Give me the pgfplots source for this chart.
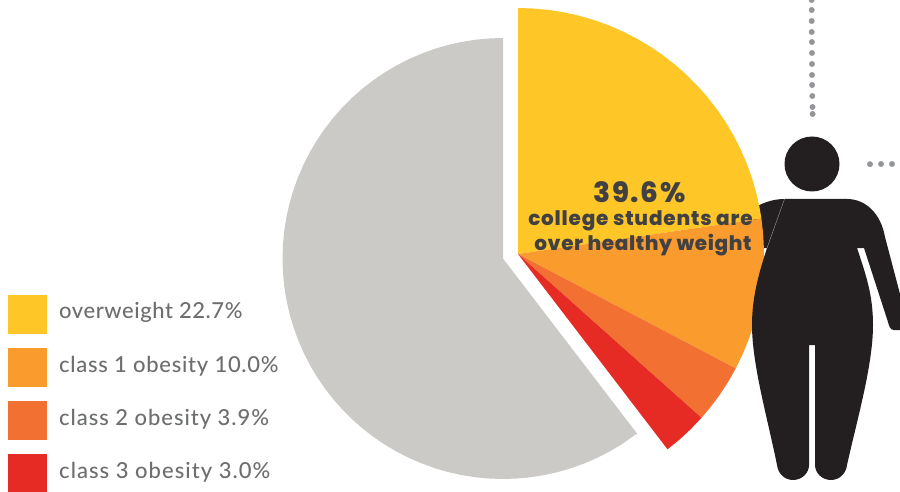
\documentclass[border=0pt]{standalone}
\usepackage{pgfplots}
\usepackage{pgfplotstable}
\usepackage{fontspec}
\pgfplotsset{compat=1.18}
\setmainfont{Lato Medium}
\newfontfamily\heavy{Poppins ExtraBold}
\definecolor{cY}{HTML}{FFC627}
\definecolor{cO}{HTML}{F99B2D}
\definecolor{cT}{HTML}{F37033}
\definecolor{cR}{HTML}{E62A24}
\definecolor{cG}{HTML}{CBCAC6}
\definecolor{cK}{HTML}{231F20}
\definecolor{cL}{HTML}{6D6E70}
\definecolor{cH}{HTML}{414042}
\definecolor{cD}{HTML}{939598}
% percentage position round the pie, and radius share
\pgfplotstableread[row sep=\\]{p r\\0 0\\0 1\\1 1\\2 1\\3 1\\4 1\\5 1\\6 1\\7 1\\8 1\\9 1\\10 1\\11 1\\12 1\\13 1\\14 1\\15 1\\16 1\\17 1\\18 1\\19 1\\20 1\\21 1\\22 1\\22.7 1\\}\tY
\pgfplotstableread[row sep=\\]{p r\\22.7 0\\22.7 1\\23.7 1\\24.7 1\\25.7 1\\26.7 1\\27.7 1\\28.7 1\\29.7 1\\30.7 1\\31.7 1\\32.7 1\\}\tO
\pgfplotstableread[row sep=\\]{p r\\32.7 0\\32.7 1\\33.7 1\\34.7 1\\35.7 1\\36.6 1\\}\tT
\pgfplotstableread[row sep=\\]{p r\\36.6 0\\36.6 1\\37.6 1\\38.6 1\\39.6 1\\}\tR
\pgfplotstableread[row sep=\\]{p r\\39.6 0\\39.6 1\\41 1\\42 1\\43 1\\44 1\\45 1\\46 1\\47 1\\48 1\\49 1\\50 1\\51 1\\52 1\\53 1\\54 1\\55 1\\56 1\\57 1\\58 1\\59 1\\60 1\\61 1\\62 1\\63 1\\64 1\\65 1\\66 1\\67 1\\68 1\\69 1\\70 1\\71 1\\72 1\\73 1\\74 1\\75 1\\76 1\\77 1\\78 1\\79 1\\80 1\\81 1\\82 1\\83 1\\84 1\\85 1\\86 1\\87 1\\88 1\\89 1\\90 1\\91 1\\92 1\\93 1\\94 1\\95 1\\96 1\\97 1\\98 1\\99 1\\100 1\\}\tG
\pgfkeys{
  /pgfplots/table/wedgeA/.style={x expr={518+246*\thisrow{r}*sin(3.6*\thisrow{p})},y expr={254-246*\thisrow{r}*cos(3.6*\thisrow{p})}},
  /pgfplots/table/wedgeB/.style={x expr={503+220.5*\thisrow{r}*sin(3.6*\thisrow{p})},y expr={258.5-220.5*\thisrow{r}*cos(3.6*\thisrow{p})}},
}
\begin{document}
\begin{tikzpicture}
\begin{axis}[
  name=ax,
  width=900pt,height=492pt,scale only axis,hide axis,
  xmin=0,xmax=900,ymin=0,ymax=492,y dir=reverse,
  clip=true,
]
% cut-off heading remains at the top edge
\addplot[only marks,mark=*,mark size=2,color=cD] coordinates {(23,-0.6)(87,-0.6)(211,-0.6)(236,-0.6)(320,-0.6)};
% arm behind the pie
\fill[cK] (750,210) .. controls (762,203) and (772,199) .. (785,199) -- (767,248) -- (750,248) -- cycle;
% pie
\addplot[fill=cG,draw=none] table[wedgeB] {\tG};
\addplot[fill=cY,draw=none] table[wedgeA] {\tY};
\addplot[fill=cO,draw=none] table[wedgeA] {\tO};
\addplot[fill=cT,draw=none] table[wedgeA] {\tT};
\addplot[fill=cR,draw=none] table[wedgeA] {\tR};
% figure
\fill[cK] (784.5,199) -- (847,199)
  .. controls (866,199) and (881,214) .. (885,237)
  -- (905,313) -- (905,330) -- (894,330)
  .. controls (890,330) and (889,326) .. (888,322)
  -- (864,248) -- (857,248)
  .. controls (866,275) and (873,295) .. (873,325)
  .. controls (873,365) and (857,420) .. (847,465)
  .. controls (846,474) and (839,480) .. (831,480)
  .. controls (822,480) and (815,473) .. (815,465)
  -- (815,345) -- (809,345) -- (809,465)
  .. controls (809,473) and (802,480) .. (793,480)
  .. controls (785,480) and (778,474) .. (777,465)
  .. controls (768,420) and (752,365) .. (752,325)
  .. controls (752,295) and (760,270) .. (767,248) -- cycle;
\draw[cD,line width=0.4pt] (784.5,199) -- (767,248);
\fill[cK] (812,136.5) .. controls (827.2,136.5) and (839.5,148.8) .. (839.5,164)
  .. controls (839.5,179.2) and (827.2,191.5) .. (812,191.5)
  .. controls (796.8,191.5) and (784.5,179.2) .. (784.5,164)
  .. controls (784.5,148.8) and (796.8,136.5) .. (812,136.5) -- cycle;
% dotted leaders
\addplot[only marks,mark=*,mark size=2.7,color=cD] coordinates {(811.6,0)(811.7,10)(811.7,21)(811.7,32)(811.9,42)(812,53)(812,64)(812,75)(812.1,85)(812.3,96)(812.5,107)(812.6,114)(870,164.2)(881,164)(892,164)(903,164)};
% legend
\addplot[fill=cY,draw=none] coordinates {(8,295)(47,295)(47,334)(8,334)};
\addplot[fill=cO,draw=none] coordinates {(8,348)(47,348)(47,387)(8,387)};
\addplot[fill=cT,draw=none] coordinates {(8,401)(47,401)(47,440)(8,440)};
\addplot[fill=cR,draw=none] coordinates {(8,454)(47,454)(47,492)(8,492)};
\node[anchor=base west,inner sep=0pt,text=cL,font=\fontsize{22}{22}\selectfont\addfontfeature{LetterSpace=2.5}] at (59,318.5) {overweight 22.7\%};
\node[anchor=base west,inner sep=0pt,text=cL,font=\fontsize{22}{22}\selectfont\addfontfeature{LetterSpace=3.2}] at (59,372) {class 1 obesity 10.0\%};
\node[anchor=base west,inner sep=0pt,text=cL,font=\fontsize{22}{22}\selectfont\addfontfeature{LetterSpace=4.3}] at (59,425) {class 2 obesity 3.9\%};
\node[anchor=base west,inner sep=0pt,text=cL,font=\fontsize{22}{22}\selectfont\addfontfeature{LetterSpace=4.7}] at (59,478) {class 3 obesity 3.0\%};
% centre text
\node[anchor=base,inner sep=0pt,text=cH,font=\heavy\fontsize{28}{28}\selectfont\addfontfeature{LetterSpace=6}] at (639.5,202) {39.6\%};
\node[anchor=base,inner sep=0pt,text=cH,font=\heavy\fontsize{20}{20}\selectfont\addfontfeature{LetterSpace=4}] at (640.5,226) {college students are};
\node[anchor=base,inner sep=0pt,text=cH,font=\heavy\fontsize{20}{20}\selectfont\addfontfeature{LetterSpace=3}] at (643,250.5) {over healthy weight};
\end{axis}
\pgfresetboundingbox
\path[use as bounding box] (ax.south west) rectangle (ax.north east);
\end{tikzpicture}
\end{document}
